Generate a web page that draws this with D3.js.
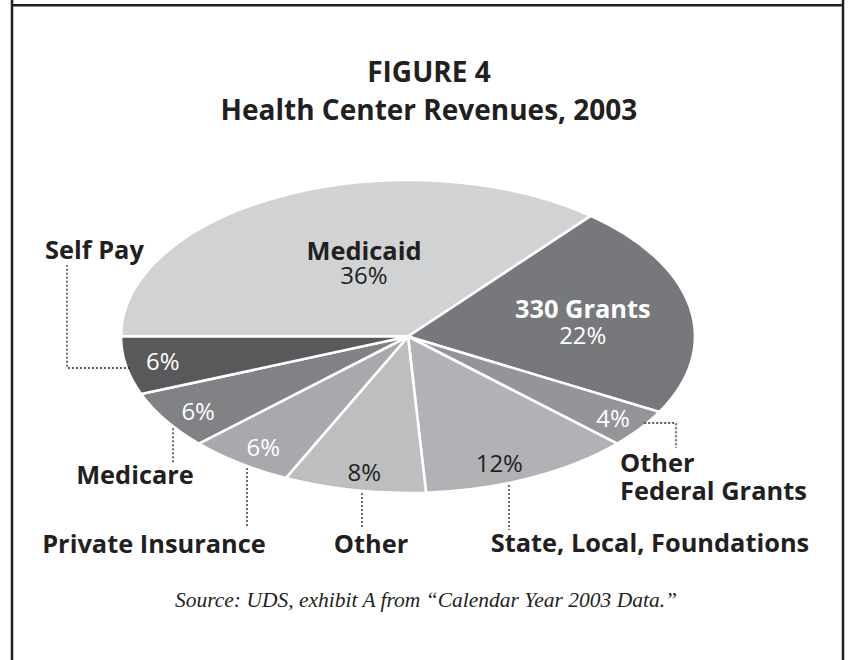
<!DOCTYPE html>
<html>
<head>
<meta charset="utf-8">
<script src="https://cdn.jsdelivr.net/npm/d3@7/dist/d3.min.js"></script>
<style>
  html, body { margin: 0; padding: 0; background: #fff; }
  svg { display: block; }
</style>
</head>
<body>
<svg id="chart" width="851" height="660"></svg>
<script>
// ---- data ----
const categories = ["Medicaid", "330 Grants", "Other Federal Grants", "State, Local, Foundations", "Other", "Private Insurance", "Medicare", "Self Pay"];
const shares = [36, 22, 4, 12, 8, 6, 6, 6];
const sliceColors = ["#d1d2d4", "#77787b", "#939598", "#b1b2b5", "#bdbec0", "#a7a9ac", "#808285", "#58595b"];
const titleLines = ["FIGURE 4", "Health Center Revenues, 2003"];
const sourceNote = "Source: UDS, exhibit A from \u201cCalendar Year 2003 Data.\u201d";

// ---- layout ----
const W = 851, H = 660;
const cx = 408, cy = 336.5, rx = 287, ry = 156.5;
const ink = "#231f20";
const sans = "'Open Sans', 'Noto Sans', sans-serif";
const boldSize = 25.4, pctSize = 24;

const svg = d3.select("#chart");

// frame
const frame = svg.append("g").attr("stroke", ink).attr("stroke-width", 2.5);
frame.append("line").attr("x1", 12).attr("x2", 843).attr("y1", 5.3).attr("y2", 5.3);
frame.append("line").attr("x1", 12).attr("x2", 12).attr("y1", 0).attr("y2", H);
frame.append("line").attr("x1", 843).attr("x2", 843).attr("y1", 0).attr("y2", H);

// title
svg.append("text")
  .attr("text-anchor", "middle")
  .attr("font-family", sans).attr("font-weight", 700).attr("font-size", 28)
  .attr("fill", ink)
  .selectAll("tspan").data(titleLines).join("tspan")
  .attr("x", 429).attr("y", (d, i) => 82 + i * 38)
  .text(d => d);

// pie: start at 9 o'clock, going clockwise
const pie = d3.pie().sort(null).value(d => d.value)
  .startAngle(-Math.PI / 2).endAngle(1.5 * Math.PI);
const rows = categories.map((c, i) => ({ name: c, value: shares[i], color: sliceColors[i] }));
const arcs = pie(rows);
const arc = d3.arc().innerRadius(0).outerRadius(1);

const pieG = svg.append("g")
  .attr("transform", `translate(${cx},${cy}) scale(${rx},${ry})`);
pieG.selectAll("path").data(arcs).join("path")
  .attr("d", arc)
  .attr("fill", d => d.data.color)
  .attr("stroke", "#fff")
  .attr("stroke-width", 2.6)
  .attr("vector-effect", "non-scaling-stroke")
  .attr("stroke-linejoin", "round");

// point on the ellipse at angle a (d3 convention), radial fraction f
const ptAt = (a, f) => [cx + Math.sin(a) * rx * f, cy - Math.cos(a) * ry * f];
const mid = d => (d.startAngle + d.endAngle) / 2;

// label placement tweaks relative to the slice's mid-angle point
const insideNamed = {
  "Medicaid": { f: 0.36, dx: 0, dy: -25.5, gap: 24 },
  "330 Grants": { f: 0.62, dx: 0, dy: 0, gap: 26 }
};
const pctNudge = { "State, Local, Foundations": [-15, 4], "Other": [3, 3], "Medicare": [1, 3], "Private Insurance": [2, 1], "Other Federal Grants": [3, 2] };
const whiteText = new Set(["330 Grants", "Other Federal Grants", "Private Insurance", "Medicare", "Self Pay"]);

const lab = svg.append("g").attr("font-family", sans).attr("text-anchor", "middle");
arcs.forEach(d => {
  const name = d.data.name;
  const fill = whiteText.has(name) ? "#fff" : ink;
  if (insideNamed[name] !== undefined) {
    const o = insideNamed[name];
    const [px, py] = ptAt(mid(d), o.f);
    const x = px + o.dx, y = py + o.dy;
    const t = lab.append("text").attr("fill", fill);
    t.append("tspan").attr("x", x).attr("y", y)
      .attr("font-weight", 700).attr("font-size", boldSize).text(name);
    t.append("tspan").attr("x", x).attr("y", y + o.gap)
      .attr("font-weight", 400).attr("font-size", pctSize).text(d.data.value + "%");
  } else {
    const [px, py] = ptAt(mid(d), 0.87);
    const n = pctNudge[name] || [0, 0];
    lab.append("text").attr("x", px + n[0]).attr("y", py + 8 + n[1])
      .attr("font-weight", 400).attr("font-size", pctSize).attr("fill", fill).text(d.data.value + "%");
  }
});

// callouts for outside names
const ellipseLowY = x => cy + ry * Math.sqrt(Math.max(0, 1 - Math.pow((x - cx) / rx, 2)));
const ellipseLeftX = y => cx - rx * Math.sqrt(Math.max(0, 1 - Math.pow((y - cy) / ry, 2)));
const ellipseRightX = y => cx + rx * Math.sqrt(Math.max(0, 1 - Math.pow((y - cy) / ry, 2)));

const callouts = [
  { name: "Self Pay", lines: ["Self Pay"], anchor: "start", tx: 45, ty: 259,
    path: () => { const y = 368; return [[ellipseLeftX(y) + 3, y], [67, y], [67, 265]]; } },
  { name: "Medicare", lines: ["Medicare"], anchor: "middle", tx: 135, ty: 484,
    path: () => [[173, ellipseLowY(173) + 2], [173, 463]] },
  { name: "Private Insurance", lines: ["Private Insurance"], anchor: "middle", tx: 154, ty: 553,
    path: () => [[247, ellipseLowY(247) + 2], [247, 528]] },
  { name: "Other", lines: ["Other"], anchor: "middle", tx: 371, ty: 553,
    path: () => [[362, ellipseLowY(362) + 2], [362, 528]] },
  { name: "State, Local, Foundations", lines: ["State, Local, Foundations"], anchor: "middle", tx: 650, ty: 552,
    path: () => [[509, ellipseLowY(509) + 2], [509, 530]] },
  { name: "Other Federal Grants", lines: ["Other", "Federal Grants"], anchor: "start", tx: 620, ty: 472,
    path: () => { const y = 423; return [[ellipseRightX(y) - 3, y], [676, y], [676, 448]]; } }
];

const co = svg.append("g");
callouts.forEach(c => {
  co.append("path")
    .attr("d", d3.line()(c.path()))
    .attr("fill", "none").attr("stroke", ink)
    .attr("stroke-width", 1.3).attr("stroke-dasharray", "2,2");
  const t = co.append("text")
    .attr("text-anchor", c.anchor)
    .attr("font-family", sans).attr("font-weight", 700).attr("font-size", boldSize)
    .attr("fill", ink);
  c.lines.forEach((line, i) => {
    t.append("tspan").attr("x", c.tx).attr("y", c.ty + i * 28).text(line);
  });
});

// source
svg.append("text").attr("x", 426).attr("y", 607)
  .attr("text-anchor", "middle")
  .attr("font-family", "'Liberation Serif', 'DejaVu Serif', serif")
  .attr("font-style", "italic").attr("font-size", 21.5)
  .attr("fill", ink).text(sourceNote);
</script>
</body>
</html>
